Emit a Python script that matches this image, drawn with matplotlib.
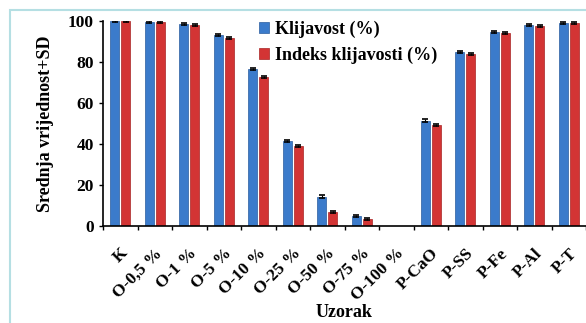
import numpy as np
import matplotlib.pyplot as plt
from matplotlib.patches import Rectangle

categories = ["K", "O-0,5 %", "O-1 %", "O-5 %", "O-10 %", "O-25 %", "O-50 %",
              "O-75 %", "O-100 %", "P-CaO", "P-SS", "P-Fe", "P-Al", "P-T"]
klijavost = [100, 99.5, 98.5, 93, 76.5, 41.5, 14.3, 4.9, 0, 51.4, 85, 94.8, 98, 99]
indeks = [100, 99.5, 98, 91.5, 72.8, 39, 7, 3.4, 0, 49.3, 84, 94.2, 97.7, 99]
sd_klijavost = [0.4, 0.5, 0.5, 0.5, 0.6, 0.6, 0.6, 0.5, np.nan, 0.6, 0.5, 0.5, 0.5, 0.4]
sd_indeks = [0.4, 0.5, 0.5, 0.5, 0.6, 0.5, 0.5, 0.4, np.nan, 0.5, 0.5, 0.5, 0.5, 0.4]

plt.rcParams["font.family"] = ["Liberation Serif", "DejaVu Serif"]
plt.rcParams["font.weight"] = "bold"

fig = plt.figure(figsize=(5.86, 3.23), dpi=100)
fig.patches.append(Rectangle((10 / 586, -0.1), 1.2, 1 - 10 / 323 + 0.1,
                             transform=fig.transFigure, fill=False,
                             edgecolor="#b5dfe3", linewidth=1.5))
ax = fig.add_axes([103 / 586, 1 - 226 / 323, 1 - 103 / 586, (226 - 21) / 323])

x = np.arange(len(categories))
w = 0.27
blue = "#3b7bcb"
red = "#d33434"
ekw = dict(ecolor="black", capsize=2, elinewidth=0.8, capthick=1.2)
ax.bar(x - 0.16, klijavost, w, color=blue, edgecolor="#2a5c9e", linewidth=0.5,
       label="Klijavost (%)")
ax.bar(x + 0.16, indeks, w, color=red, edgecolor="#a82424", linewidth=0.5,
       label="Indeks klijavosti (%)")
ax.errorbar(x - 0.16, klijavost, yerr=sd_klijavost, fmt="none", **ekw)
ax.errorbar(x + 0.16, indeks, yerr=sd_indeks, fmt="none", **ekw)

ax.set_xlim(-0.5, len(categories) - 0.5)
ax.set_ylim(0, 100)
ax.set_yticks([0, 20, 40, 60, 80, 100])
ax.tick_params(axis="y", labelsize=12.5, direction="out", length=3, width=1)
ax.set_xticks(x)
ax.set_xticklabels(categories, rotation=45, ha="right", rotation_mode="anchor", fontsize=12.5)
ax.set_xticks(np.arange(-0.5, len(categories), 1.0), minor=True)
ax.tick_params(axis="x", which="major", length=0, pad=14)
ax.tick_params(axis="x", which="minor", direction="out", length=3, width=1)
for s in ["top", "right"]:
    ax.spines[s].set_visible(False)
ax.spines["left"].set_linewidth(1.2)
ax.spines["bottom"].set_linewidth(1.2)

ax.set_ylabel("Srednja vrijednost+SD", fontsize=13, fontweight="bold", labelpad=10)
ax.set_xlabel("Uzorak", fontsize=13, fontweight="bold", labelpad=0)

ax.legend(loc="upper left", bbox_to_anchor=(0.29, 1.08), frameon=False, fontsize=13,
          handlelength=0.55, handleheight=0.55, handletextpad=0.3, labelspacing=0.45)

fig.savefig("out.png", dpi=100)
